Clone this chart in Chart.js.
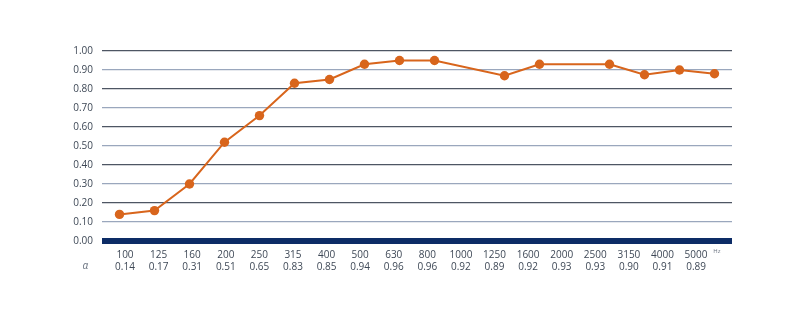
<!DOCTYPE html>
<html>
<head>
<meta charset="utf-8">
<script src="https://cdn.jsdelivr.net/npm/chart.js@4"></script>
<style>
  html, body { margin: 0; padding: 0; background: #fff; }
  #wrap { width: 800px; height: 329px; }
</style>
</head>
<body>
<div id="wrap"><canvas id="absChart"></canvas></div>
<script>
// frequency bands (Hz)
const freqs = ['100', '125', '160', '200', '250', '315', '400', '500', '630', '800',
               '1000', '1250', '1600', '2000', '2500', '3150', '4000', '5000'];
// plotted absorption curve (no marker at 1000 and 2000)
const curve = [0.14, 0.16, 0.30, 0.52, 0.66, 0.83, 0.85, 0.93, 0.95, 0.95,
               null, 0.87, 0.93, null, 0.93, 0.875, 0.90, 0.88];
// alpha values in the table under the chart
const alphas = ['0.14', '0.17', '0.31', '0.51', '0.65', '0.83', '0.85', '0.94', '0.96', '0.96',
                '0.92', '0.89', '0.92', '0.93', '0.93', '0.90', '0.91', '0.89'];
const yTicks = [0, 0.1, 0.2, 0.3, 0.4, 0.5, 0.6, 0.7, 0.8, 0.9, 1.0];

const orange = '#d8651c';
const textCol = '#3e4856';
const font = "'Open Sans', 'Liberation Sans', sans-serif";

// alpha symbol on the left and Hz unit on the right of the table
const tableExtras = {
  id: 'tableExtras',
  afterDraw(chart) {
    const ctx = chart.ctx;
    const sc = chart.scales.x2;
    ctx.save();
    ctx.fillStyle = '#6a7380';
    ctx.textAlign = 'center';
    ctx.textBaseline = 'middle';
    ctx.font = 'italic 10px ' + font;
    ctx.fillText('α', sc.getPixelForValue(-1.18), 266);
    ctx.font = '6px ' + font;
    ctx.fillText('Hz', sc.getPixelForValue(17.62), 251);
    ctx.restore();
  }
};

const ctx = document.getElementById('absChart').getContext('2d');
new Chart(ctx, {
  type: 'line',
  data: {
    labels: freqs,
    datasets: [{
      data: curve,
      borderColor: orange,
      backgroundColor: orange,
      borderWidth: 2,
      pointRadius: 4.7,
      pointHoverRadius: 4.7,
      pointBorderWidth: 0,
      spanGaps: true,
      tension: 0,
      fill: false
    }]
  },
  options: {
    responsive: true,
    maintainAspectRatio: false,
    animation: false,
    layout: { padding: { left: 55, right: 68, top: 51, bottom: 0 } },
    plugins: { legend: { display: false }, tooltip: { enabled: false } },
    scales: {
      x: {
        type: 'category',
        display: false,
        offset: true
      },
      x2: {
        type: 'linear',
        position: 'bottom',
        min: -0.685,
        max: 18.07,
        grid: { display: false, drawTicks: false },
        border: { display: false },
        afterBuildTicks: (scale) => {
          scale.ticks = freqs.map((f, i) => ({ value: i }));
        },
        afterFit: (scale) => { scale.height = 88; },
        ticks: {
          autoSkip: false,
          maxRotation: 0,
          padding: 8,
          color: textCol,
          font: { family: font, size: 10, lineHeight: 1.2 },
          callback: (v) => [freqs[v], alphas[v]]
        }
      },
      y: {
        min: 0,
        max: 1,
        afterBuildTicks: (scale) => {
          scale.ticks = yTicks.map(v => ({ value: v }));
        },
        afterFit: (scale) => { scale.width = 47; },
        border: { display: false },
        grid: {
          drawTicks: false,
          color: (c) => {
            const v = Math.round(c.tick.value * 10);
            if (v === 0) return '#0d2c66';
            return v % 2 === 0 ? '#4e5663' : '#9aa7bd';
          },
          lineWidth: (c) => Math.round(c.tick.value * 10) === 0 ? 6 : 1.3
        },
        ticks: {
          padding: 9,
          color: textCol,
          font: { family: font, size: 10 },
          callback: (v) => v.toFixed(2)
        }
      }
    }
  },
  plugins: [tableExtras]
});
</script>
</body>
</html>
